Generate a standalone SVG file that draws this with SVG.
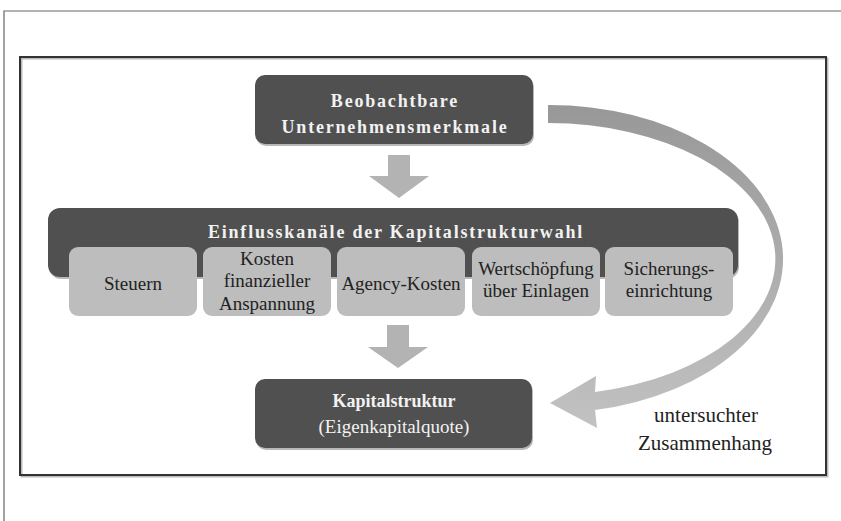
<svg xmlns="http://www.w3.org/2000/svg" width="841" height="521" viewBox="0 0 841 521">
<style>
.dark{fill:#505050}
.shadow{fill:#b8b8b8}
.sub{fill:#bdbdbd}
.down{fill:#b3b3b3}
.hd{font-family:"Liberation Serif","Times New Roman",serif;font-weight:bold;font-size:18px;fill:#f2f2f2;text-anchor:middle}
.sp{letter-spacing:1.8px}
.nm{font-family:"Liberation Serif","Times New Roman",serif;font-size:19px;fill:#f2f2f2;text-anchor:middle}
.bx{font-family:"Liberation Serif","Times New Roman",serif;font-size:19px;fill:#222;text-anchor:middle}
.lb{font-family:"Liberation Serif","Times New Roman",serif;font-size:21px;fill:#222;text-anchor:middle}
</style>
<defs>
<linearGradient id="curveGrad" gradientUnits="userSpaceOnUse" x1="0" y1="105" x2="0" y2="430">
<stop offset="0" stop-color="#989898"/>
<stop offset="1" stop-color="#c2c2c2"/>
</linearGradient>
</defs>
<rect width="841" height="521" fill="#ffffff"/>
<g id="outer-frame" fill="none" stroke="#666" stroke-width="1.2">
<path d="M4,521 V11 H841"/>
</g>
<g id="inner-frame" fill="none">
<rect x="21.5" y="58.5" width="806" height="418" stroke="#bbb" stroke-width="2"/>
<rect x="20" y="57" width="806" height="418" stroke="#333" stroke-width="2"/>
</g>
<g id="connectors">
<path class="down" d="M388,155 H410 V176 H429 L399,198 L369,176 H388 Z"/>
<path class="down" d="M387,325 H409 V347 H428 L398,368 L368,347 H387 Z"/>
<path fill="url(#curveGrad)" d="M548,105 A234,154 0 0 1 595,410 L597,428 L550,403 L596,376 L595,392 A228,136 0 0 0 548,123 Z"/>
</g>
<g id="node-merkmale">
<rect class="shadow" x="256" y="77" width="278" height="69" rx="10"/>
<rect class="dark" x="255" y="75" width="278" height="69" rx="10"/>
<text class="hd sp" x="395" y="107">Beobachtbare</text>
<text class="hd sp" x="395" y="133">Unternehmensmerkmale</text>
</g>
<g id="node-einfluss">
<rect class="shadow" x="49" y="210" width="690" height="69" rx="12"/>
<rect class="dark" x="48" y="208" width="690" height="69" rx="12"/>
<text class="hd sp" x="396" y="238">Einflusskanäle der Kapitalstrukturwahl</text>
</g>
<g id="node-steuern">
<rect class="sub" x="69" y="247" width="128" height="69" rx="9"/>
<text class="bx" x="133" y="290">Steuern</text>
</g>
<g id="node-kosten">
<rect class="sub" x="203" y="247" width="128" height="69" rx="9"/>
<text class="bx" x="267" y="265">Kosten</text>
<text class="bx" x="267" y="287">finanzieller</text>
<text class="bx" x="267" y="310">Anspannung</text>
</g>
<g id="node-agency">
<rect class="sub" x="337" y="247" width="128" height="69" rx="9"/>
<text class="bx" x="401" y="290">Agency-Kosten</text>
</g>
<g id="node-wertschoepfung">
<rect class="sub" x="472" y="247" width="128" height="69" rx="9"/>
<text class="bx" x="536" y="275">Wertschöpfung</text>
<text class="bx" x="536" y="297">über Einlagen</text>
</g>
<g id="node-sicherung">
<rect class="sub" x="605" y="247" width="128" height="69" rx="9"/>
<text class="bx" x="669" y="275">Sicherungs-</text>
<text class="bx" x="669" y="297">einrichtung</text>
</g>
<g id="node-kapitalstruktur">
<rect class="shadow" x="256" y="381" width="277" height="69" rx="10"/>
<rect class="dark" x="255" y="379" width="277" height="69" rx="10"/>
<text class="hd" x="394" y="407">Kapitalstruktur</text>
<text class="nm" x="394" y="433">(Eigenkapitalquote)</text>
</g>
<g id="label-zusammenhang">
<text class="lb" x="706" y="422">untersuchter</text>
<text class="lb" x="705" y="450">Zusammenhang</text>
</g>
</svg>
